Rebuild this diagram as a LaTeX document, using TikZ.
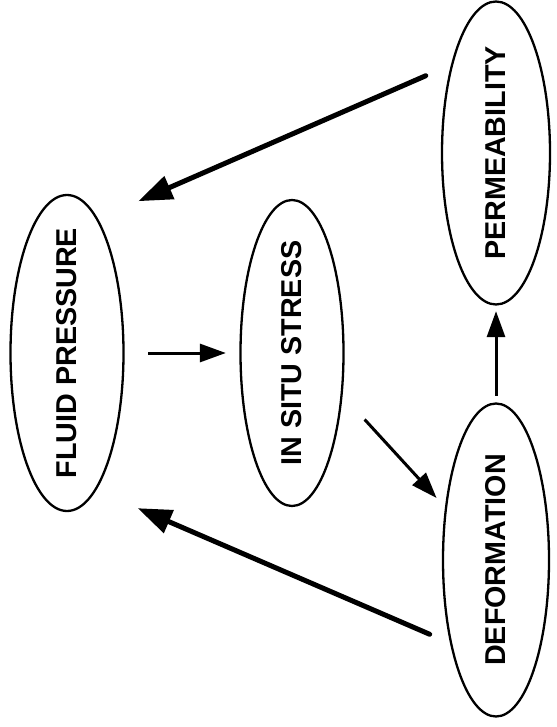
\documentclass[tikz,border=0pt]{standalone}
\usepackage{fontspec}
\usepackage{graphicx}
\setmainfont{Liberation Sans}
\usetikzlibrary{shapes.geometric,positioning,arrows.meta}

% upright label of zero length, so the oval size comes from the style only
\newcommand{\uplabel}[1]{\rotatebox{90}{\makebox[0pt]{#1}}}

\tikzset{
  oval/.style={ellipse, draw, line width=2.3bp, inner sep=0pt,
    font=\fontsize{28.7bp}{30bp}\selectfont\bfseries},
  link/.style={line width=3bp, -{Triangle[length=26bp,width=18bp]}},
  heavy link/.style={line width=5bp, line cap=round,
    -{Triangle[length=34bp,width=24bp]}}
}

\begin{document}
\begin{tikzpicture}[x=1bp, y=1bp, on grid]
\useasboundingbox (0,0) rectangle (557,-727);

\node[oval, minimum width=113bp, minimum height=316bp] (fp) at (67,-353)
  {\uplabel{FLUID PRESSURE}};
\node[oval, minimum width=103bp, minimum height=306bp, right=225bp of fp] (iss)
  {\uplabel{IN SITU STRESS}};
\node[oval, minimum width=106bp, minimum height=313bp,
  below right=207bp and 204bp of iss] (def)
  {\uplabel{DEFORMATION}};
\node[oval, minimum width=108bp, minimum height=303bp, above=407bp of def] (perm)
  {\uplabel{PERMEABILITY}};

% the loop through stress and deformation
\draw[link, shorten <=23.5bp, shorten >=13.5bp] (fp) -- (iss);
\draw[link, shorten <=32.6bp, shorten >=12.4bp] (iss.-40) -- (def.134);
\draw[link, shorten <=6.5bp, shorten >=5.5bp] (def.north) -- (perm.south);

% feedback to fluid pressure
\draw[heavy link, shorten <=27.6bp, shorten >=44bp] (perm.117) -- (fp.77);
\draw[heavy link, shorten <=22.1bp, shorten >=45.2bp] (def.-119) -- (fp.-78);
\end{tikzpicture}
\end{document}
